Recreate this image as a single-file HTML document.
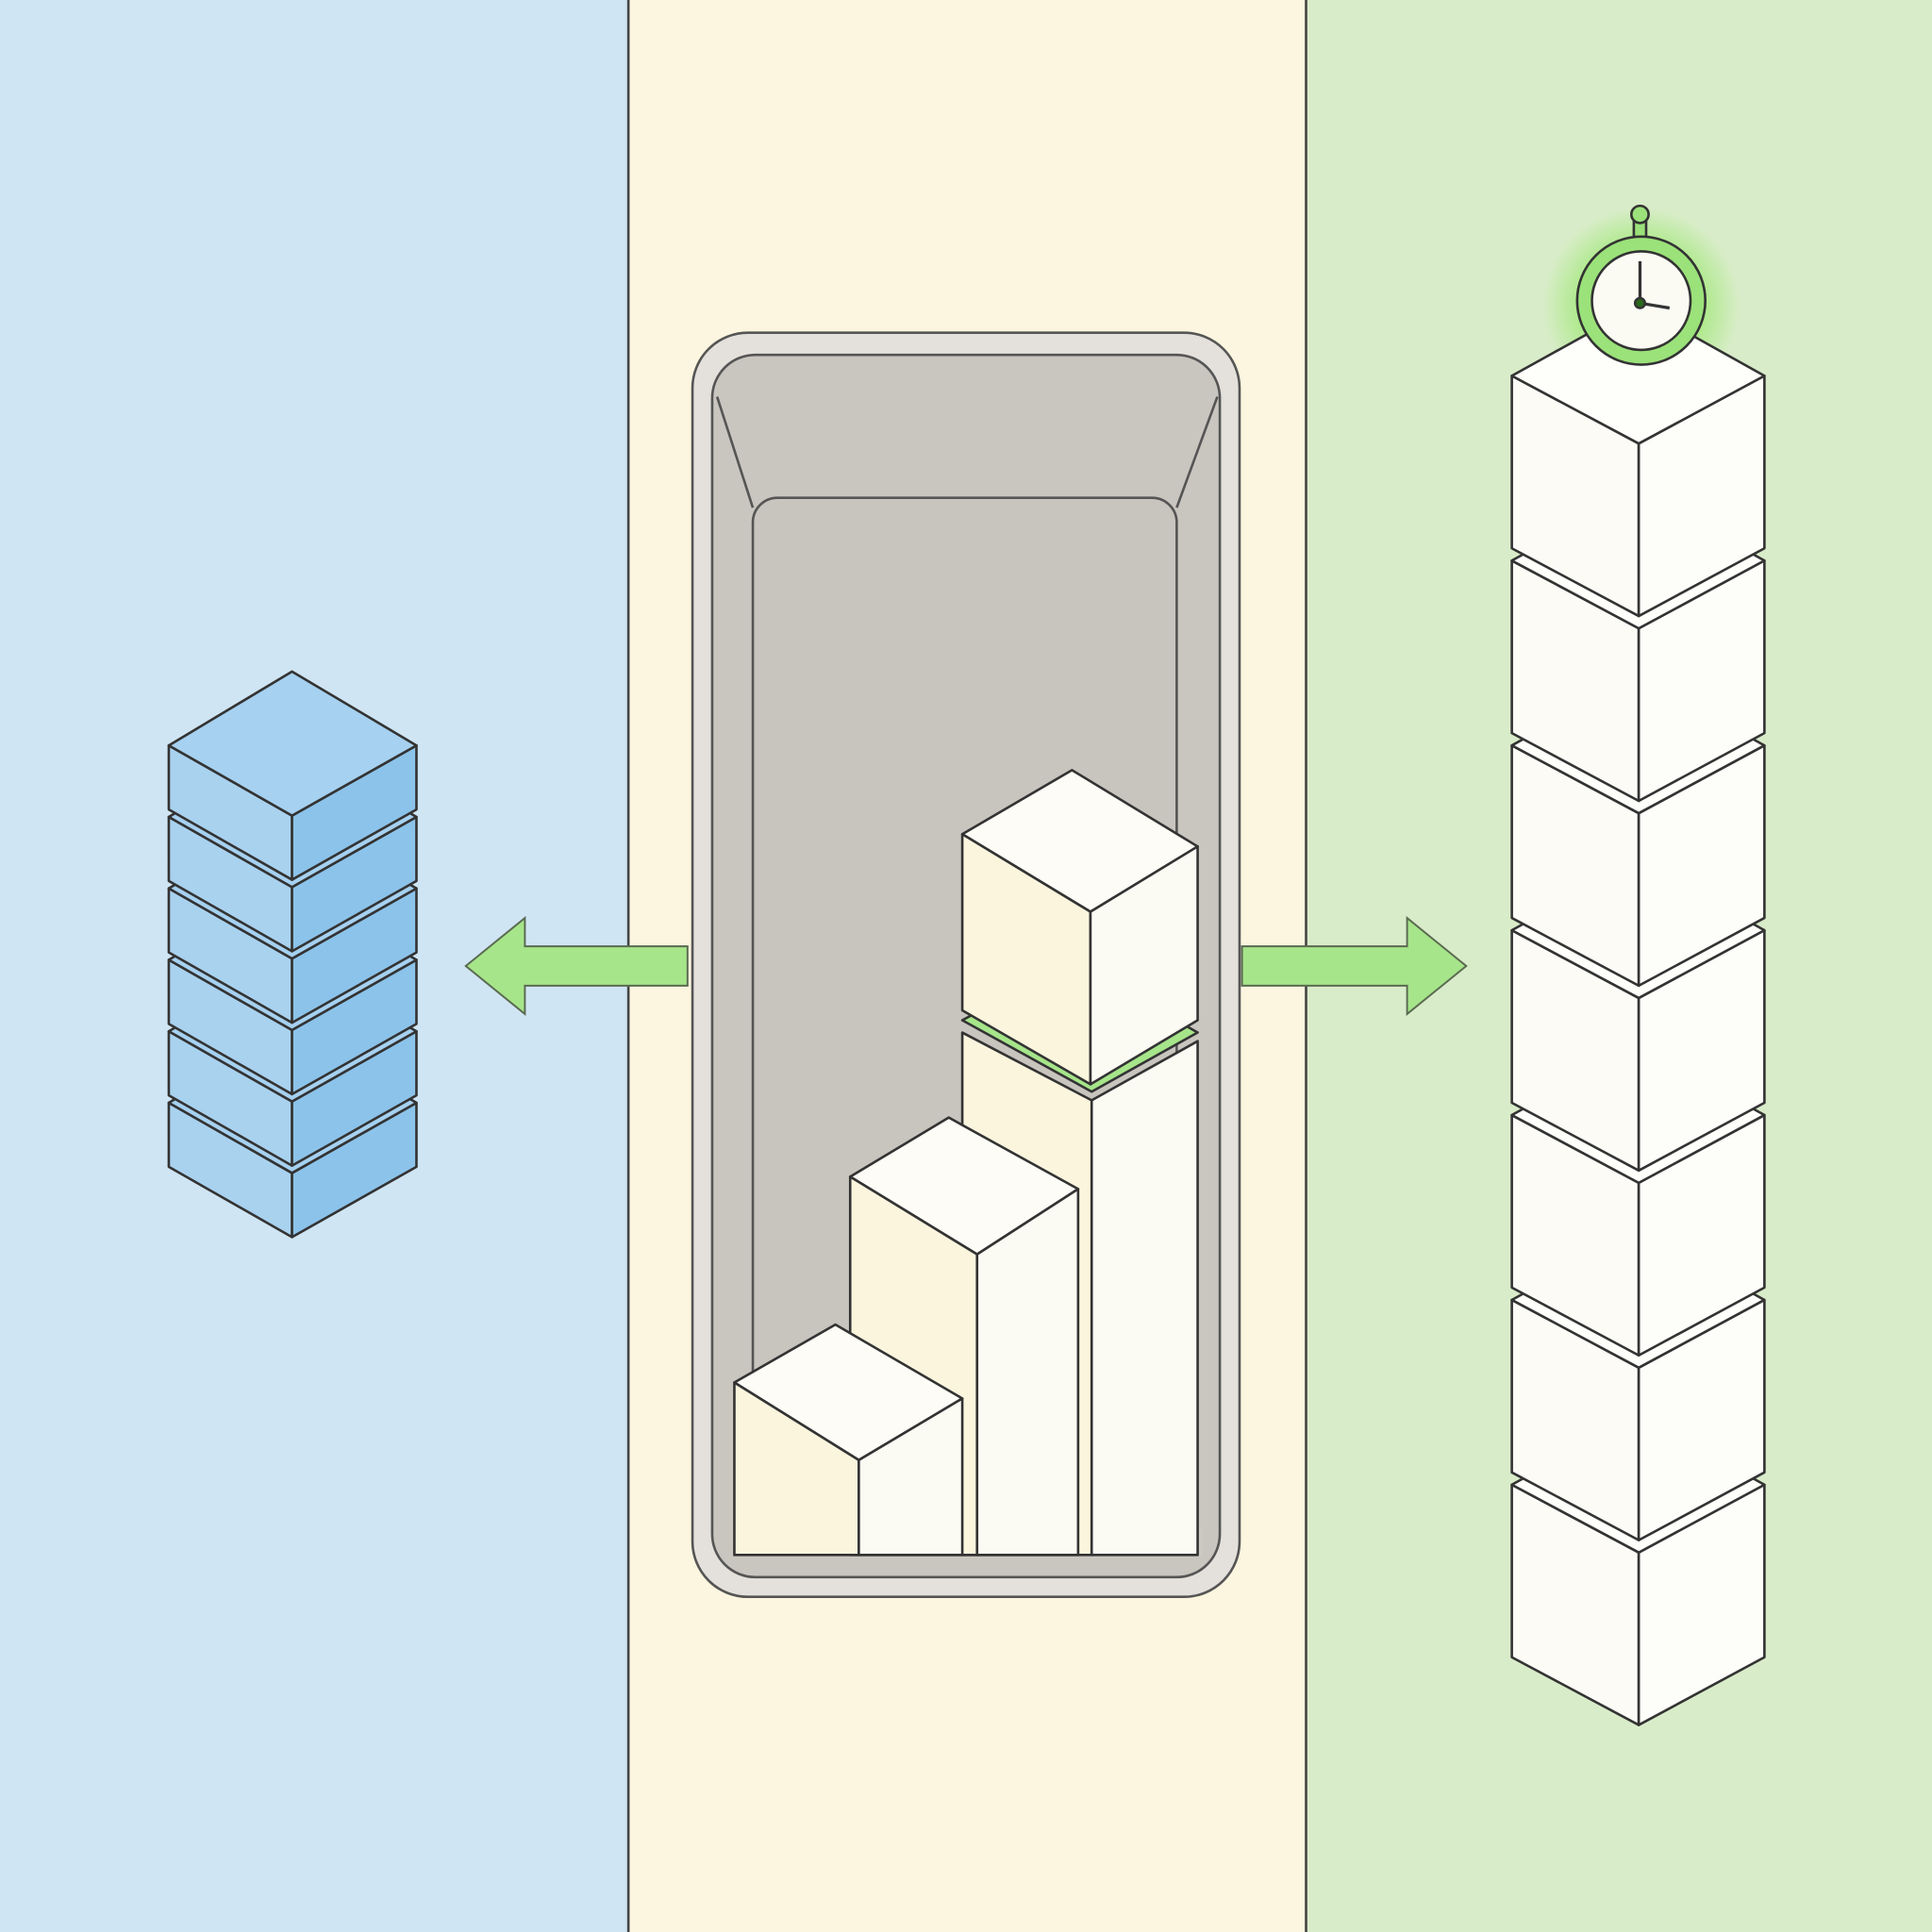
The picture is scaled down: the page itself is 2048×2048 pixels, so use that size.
<!DOCTYPE html>
<html><head><meta charset="utf-8"><style>
html,body{margin:0;padding:0;width:2048px;height:2048px;overflow:hidden;}
svg{display:block}
</style></head><body>
<svg width="2048" height="2048" viewBox="0 0 1568 1568" xmlns="http://www.w3.org/2000/svg">
<defs>
<radialGradient id="glow"><stop offset="0.5" stop-color="#8fe860" stop-opacity="0.8"/><stop offset="1" stop-color="#8fe860" stop-opacity="0"/></radialGradient>
</defs>
<rect x="0" y="0" width="510" height="1568" fill="#cfe5f3"/>
<rect x="510" y="0" width="550" height="1568" fill="#fcf5df"/>
<rect x="1060" y="0" width="508" height="1568" fill="#d9ecc9"/>
<line x1="510" y1="0" x2="510" y2="1568" stroke="#444" stroke-width="2"/>
<line x1="1060" y1="0" x2="1060" y2="1568" stroke="#444" stroke-width="2"/>

<!-- arrows -->
<g fill="#a6e58a" stroke="#5a6a50" stroke-width="1.5">
<polygon points="558,768 426,768 426,745 378,784 426,823 426,800 558,800"/>
<polygon points="1008,768 1142,768 1142,745 1190,784 1142,823 1142,800 1008,800"/>
</g>

<!-- tray -->
<rect x="562" y="270" width="444" height="1026" rx="45" fill="#e4e1dc" stroke="#555" stroke-width="2"/>
<rect x="578" y="288" width="412" height="992" rx="35" fill="#c9c5bf" stroke="#555" stroke-width="2"/>
<rect x="611" y="404" width="344" height="858" rx="20" fill="#c8c4be" stroke="#555" stroke-width="2"/>
<line x1="582" y1="322" x2="611" y2="412" stroke="#555" stroke-width="2"/>
<line x1="988" y1="322" x2="955" y2="412" stroke="#555" stroke-width="2"/>
<rect x="596" y="1240" width="380" height="24" fill="#ccc8c2"/>

<g stroke="#333" stroke-width="2" stroke-linejoin="round">
<!-- tall block lower -->
<polygon points="781,838 886,893 886,1262 781,1262" fill="#fbf5de"/>
<polygon points="886,893 972,845 972,1262 886,1262" fill="#fbfaf3"/>
<polygon points="781,828 870,780 972,838 886,886" fill="#a6e58a"/>
<!-- tall top cube -->
<polygon points="870,625 972,687 885,740 781,677" fill="#fdfcf6"/>
<polygon points="781,677 885,740 885,880 781,820" fill="#fbf5de"/>
<polygon points="885,740 972,687 972,828 885,880" fill="#fbfaf3"/>
<!-- mid -->
<polygon points="770,907 875,965 793,1018 690,955" fill="#fdfcf6"/>
<polygon points="690,955 793,1018 793,1262 690,1262" fill="#fbf5de"/>
<polygon points="793,1018 875,965 875,1262 793,1262" fill="#fbfaf3"/>
<!-- small -->
<polygon points="678,1075 781,1135 697,1185 596,1122" fill="#fdfcf6"/>
<polygon points="596,1122 697,1185 697,1262 596,1262" fill="#fbf5de"/>
<polygon points="697,1185 781,1135 781,1262 697,1262" fill="#fbfaf3"/>
</g>

<!-- blue stack -->
<g stroke="#333" stroke-width="2" stroke-linejoin="round">
<g transform="translate(0,290)"><polygon points="137,605 237,662 237,714 137,657" fill="#a9d2ef"/><polygon points="237,662 338,605 338,657 237,714" fill="#8cc3ea"/><polygon points="237,545 338,605 237,662 137,605" fill="#a6d1f0"/></g>
<g transform="translate(0,232)"><polygon points="137,605 237,662 237,714 137,657" fill="#a9d2ef"/><polygon points="237,662 338,605 338,657 237,714" fill="#8cc3ea"/><polygon points="237,545 338,605 237,662 137,605" fill="#a6d1f0"/></g>
<g transform="translate(0,174)"><polygon points="137,605 237,662 237,714 137,657" fill="#a9d2ef"/><polygon points="237,662 338,605 338,657 237,714" fill="#8cc3ea"/><polygon points="237,545 338,605 237,662 137,605" fill="#a6d1f0"/></g>
<g transform="translate(0,116)"><polygon points="137,605 237,662 237,714 137,657" fill="#a9d2ef"/><polygon points="237,662 338,605 338,657 237,714" fill="#8cc3ea"/><polygon points="237,545 338,605 237,662 137,605" fill="#a6d1f0"/></g>
<g transform="translate(0,58)"><polygon points="137,605 237,662 237,714 137,657" fill="#a9d2ef"/><polygon points="237,662 338,605 338,657 237,714" fill="#8cc3ea"/><polygon points="237,545 338,605 237,662 137,605" fill="#a6d1f0"/></g>
<g><polygon points="137,605 237,662 237,714 137,657" fill="#a9d2ef"/><polygon points="237,662 338,605 338,657 237,714" fill="#8cc3ea"/><polygon points="237,545 338,605 237,662 137,605" fill="#a6d1f0"/></g>
</g>

<!-- glow + stopwatch -->
<circle cx="1332" cy="248" r="80" fill="url(#glow)"/>
<!-- right tower -->
<g stroke="#333" stroke-width="2" stroke-linejoin="round">
<g transform="translate(0,900)"><polygon points="1227,305 1330,360 1330,500 1227,445" fill="#fcfbf6"/><polygon points="1330,360 1432,305 1432,445 1330,500" fill="#fdfdfa"/><polygon points="1330,248 1432,305 1330,360 1227,305" fill="#fefefb"/></g>
<g transform="translate(0,750)"><polygon points="1227,305 1330,360 1330,500 1227,445" fill="#fcfbf6"/><polygon points="1330,360 1432,305 1432,445 1330,500" fill="#fdfdfa"/><polygon points="1330,248 1432,305 1330,360 1227,305" fill="#fefefb"/></g>
<g transform="translate(0,600)"><polygon points="1227,305 1330,360 1330,500 1227,445" fill="#fcfbf6"/><polygon points="1330,360 1432,305 1432,445 1330,500" fill="#fdfdfa"/><polygon points="1330,248 1432,305 1330,360 1227,305" fill="#fefefb"/></g>
<g transform="translate(0,450)"><polygon points="1227,305 1330,360 1330,500 1227,445" fill="#fcfbf6"/><polygon points="1330,360 1432,305 1432,445 1330,500" fill="#fdfdfa"/><polygon points="1330,248 1432,305 1330,360 1227,305" fill="#fefefb"/></g>
<g transform="translate(0,300)"><polygon points="1227,305 1330,360 1330,500 1227,445" fill="#fcfbf6"/><polygon points="1330,360 1432,305 1432,445 1330,500" fill="#fdfdfa"/><polygon points="1330,248 1432,305 1330,360 1227,305" fill="#fefefb"/></g>
<g transform="translate(0,150)"><polygon points="1227,305 1330,360 1330,500 1227,445" fill="#fcfbf6"/><polygon points="1330,360 1432,305 1432,445 1330,500" fill="#fdfdfa"/><polygon points="1330,248 1432,305 1330,360 1227,305" fill="#fefefb"/></g>
<g><polygon points="1227,305 1330,360 1330,500 1227,445" fill="#fcfbf6"/><polygon points="1330,360 1432,305 1432,445 1330,500" fill="#fdfdfa"/><polygon points="1330,248 1432,305 1330,360 1227,305" fill="#fefefb"/></g>
</g>
<g stroke="#333" stroke-width="2">
<rect x="1326" y="180" width="10" height="14" fill="#9be27a"/>
<circle cx="1331" cy="174" r="7" fill="#9be27a"/>
<circle cx="1332" cy="244" r="52" fill="#9be27a"/>
<circle cx="1332" cy="244" r="40" fill="#fbfbf4"/>
<line x1="1331" y1="212" x2="1331" y2="246" stroke-width="2.5"/>
<line x1="1331" y1="246" x2="1355" y2="250" stroke-width="2.5"/>
<circle cx="1331" cy="246" r="4" fill="#2a6a1a"/>
</g>
</svg>
</body></html>
